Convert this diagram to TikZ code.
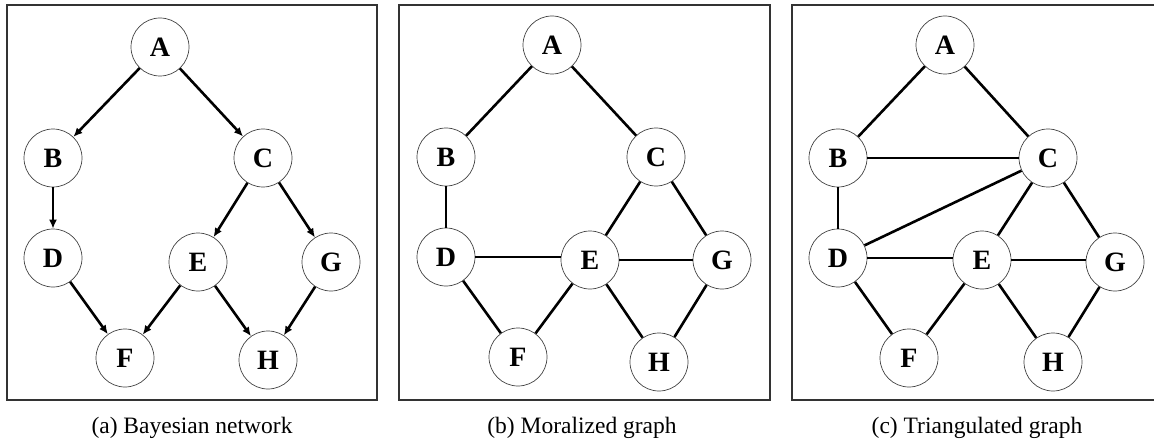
\documentclass[tikz,border=0pt]{standalone}
\usepackage{fontspec}
\setmainfont{Liberation Serif}
\usetikzlibrary{arrows.meta}
\begin{document}
\begin{tikzpicture}[x=1pt,y=-1pt,
  vnode/.style={circle,draw=black!75,line width=0.7pt,minimum size=58pt,inner sep=0pt,
    font=\fontsize{28}{28}\selectfont\bfseries},
  edge/.style={line width=2.6pt,black},
  arc/.style={edge,-{Latex[length=9pt,width=8pt]}},
  frame/.style={draw=black!80,line width=1.1pt},
  caption/.style={font=\fontsize{23.5}{24}\selectfont,anchor=base}]
\useasboundingbox (0,0) rectangle (1154,441);

% (a) Bayesian network
\draw[frame] (7,5) rectangle (377,400);
\node[vnode] (aA) at (160,47) {A};
\node[vnode] (aB) at (53,158) {B};
\node[vnode] (aC) at (263,158) {C};
\node[vnode] (aD) at (53,258) {D};
\node[vnode] (aE) at (198,262) {E};
\node[vnode] (aG) at (331,262) {G};
\node[vnode] (aF) at (125,358) {F};
\node[vnode] (aH) at (268,360) {H};
\draw[arc] (aA) -- (aB);
\draw[arc] (aA) -- (aC);
\draw[arc] (aB) -- (aD);
\draw[arc] (aC) -- (aE);
\draw[arc] (aC) -- (aG);
\draw[arc] (aD) -- (aF);
\draw[arc] (aE) -- (aF);
\draw[arc] (aE) -- (aH);
\draw[arc] (aG) -- (aH);
\node[caption] (capa) at (192,433) {(a) Bayesian network};

% (b) Moralized graph
\draw[frame] (399,5) rectangle (770,400);
\node[vnode] (bA) at (552,45) {A};
\node[vnode] (bB) at (446,157) {B};
\node[vnode] (bC) at (656,157) {C};
\node[vnode] (bD) at (446,257) {D};
\node[vnode] (bE) at (590,260) {E};
\node[vnode] (bG) at (722,260) {G};
\node[vnode] (bF) at (518,357) {F};
\node[vnode] (bH) at (659,362) {H};
\draw[edge] (bA) -- (bB);
\draw[edge] (bA) -- (bC);
\draw[edge] (bB) -- (bD);
\draw[edge] (bC) -- (bE);
\draw[edge] (bC) -- (bG);
\draw[edge] (bD) -- (bF);
\draw[edge] (bE) -- (bF);
\draw[edge] (bE) -- (bH);
\draw[edge] (bG) -- (bH);
\draw[edge] (bD.east) -- (bD.east -| bE.west);
\draw[edge] (bE.east) -- (bE.east -| bG.west);
\node[caption] (capb) at (582,433) {(b) Moralized graph};

% (c) Triangulated graph
\draw[frame] (1156,5) -- (792,5) -- (792,400) -- (1156,400);
\node[vnode] (cA) at (945,45) {A};
\node[vnode] (cB) at (838,158) {B};
\node[vnode] (cC) at (1048,158) {C};
\node[vnode] (cD) at (838,258) {D};
\node[vnode] (cE) at (982,260) {E};
\node[vnode] (cG) at (1115,262) {G};
\node[vnode] (cF) at (909,358) {F};
\node[vnode] (cH) at (1053,362) {H};
\draw[edge] (cA) -- (cB);
\draw[edge] (cA) -- (cC);
\draw[edge] (cB) -- (cD);
\draw[edge] (cB) -- (cC);
\draw[edge] (cC) -- (cD);
\draw[edge] (cC) -- (cE);
\draw[edge] (cC) -- (cG);
\draw[edge] (cD) -- (cF);
\draw[edge] (cE) -- (cF);
\draw[edge] (cE) -- (cH);
\draw[edge] (cG) -- (cH);
\draw[edge] (cD.east) -- (cD.east -| cE.west);
\draw[edge] (cE.east) -- (cE.east -| cG.west);
\node[caption] (capc) at (977,433) {(c) Triangulated graph};
\end{tikzpicture}
\end{document}
